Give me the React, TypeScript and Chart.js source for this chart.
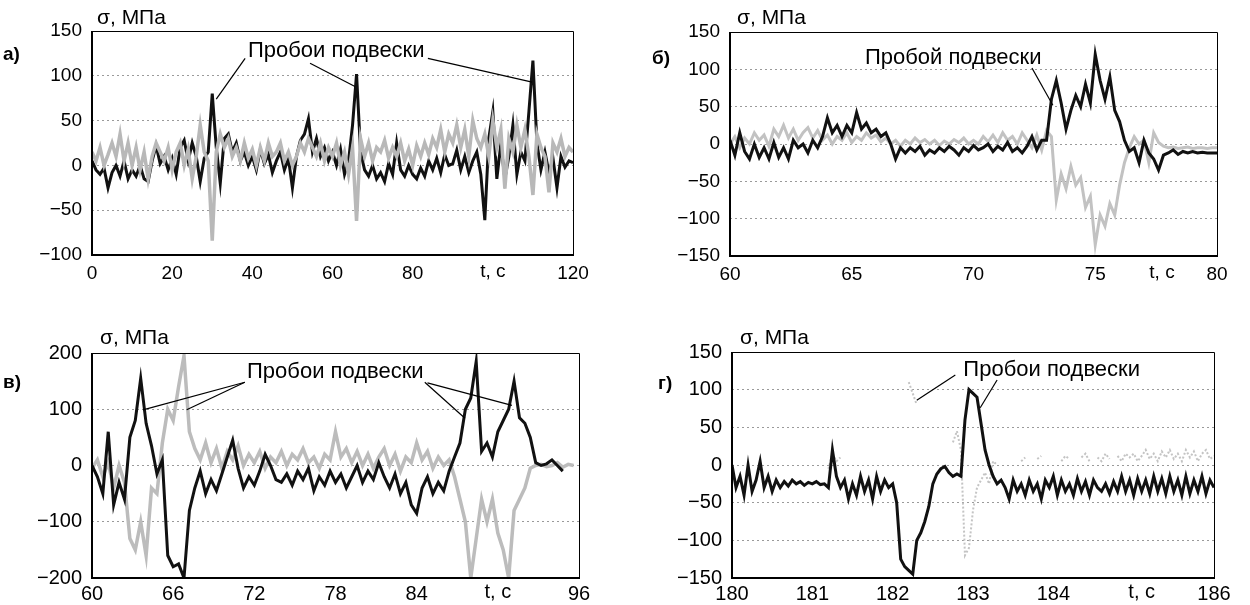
import React, { useEffect, useRef } from 'react';
import { Chart, registerables } from 'chart.js';

Chart.register(...registerables);

const FONT = '"Liberation Sans", Arial, Helvetica, sans-serif';

// ---------- Panel а) : t = 0..120 s, step 1 s ----------
const aStart = 0;
const aStep = 1;
const aBlack = [
  5, -5, -10, -3, -25, -8, 0, -12, 5, -15,
  -5, -12, 0, -15, -18, 5, 22, 2, 10, -5,
  8, -10, 20, 28, 5, 25, 10, -18, 8, 15,
  80, 20, -20, 30, 35, 15, 25, 5, 15, 0,
  10, -5, 18, 2, 12, -8, 5, 15, -5, 8,
  -25, 10, 28, 35, 52, 15, 30, 10, 20, 5,
  15, 0, 18, -10, 5, 45, 102, 15, -5, -12,
  0, -15, -8, -18, 2, -10, 25, -5, -12, 0,
  -10, -15, -3, -12, 5, -5, 8, -8, 12, 0,
  2, 17, -5, 10, -8, 5, 15, -10, -61, 30,
  60, -15, 24, -15, 10, 45, -10, 15, 5, 60,
  117, 25, -5, 15, -8, 8, -25, 10, -2, 5,
  3,
];
const aGray = [
  15, 5, 20, 0, 12, 25, 10, 35, 5, 25,
  0, 20, -5, 15, -15, 10, 25, 15, 5, 20,
  -5, 15, 25, 0, 18, -15, 10, 45, 15, 5,
  -84, 15, 35, 20, 30, 10, 20, 5, 25, 8,
  18, 0, 20, 5, 25, 10, 15, 25, 5, 15,
  0, 10, 25, 15, 30, 20, 10, 25, 5, 20,
  10, 25, 0, 15, -10, 20, -62, 30, 10, 25,
  5, 20, 15, 28, 8, 20, 10, 25, 5, 18,
  0, 22, 10, 25, 12, 30, 20, 40, 15, 35,
  25, 45, 20, 40, 10, 50, 30, 20, 35, 10,
  50, 20, 40, -26, 30, 15, 45, 20, 40, 10,
  -33, 35, 20, 10, -30, 25, 15, 30, 10, 20,
  15,
];
const aNoteAt = [38.9, 128];
const aLeaders = [
  [38.2, 119.4, 31.0, 74],
  [54.4, 114, 65.6, 88],
  [83.8, 119.4, 109.8, 93],
];

// ---------- Panel б) : t = 60..80 s, step 0.2 s ----------
const bStart = 60;
const bStep = 0.2;
const bBlack = [
  5, -15, 15, -10, -20, 0, -18, -5, -20, 2,
  -18, -5, -20, 5, -5, 0, -12, 5, -5, 10,
  35, 15, 25, 10, 25, 15, 42, 20, 28, 15,
  20, 10, 15, 0, -20, -5, -12, -5, -10, -3,
  -15, -8, -12, -5, -10, -3, -8, -15, -5, -10,
  -2, -8, -5, 0, -10, -3, -8, 2, -10, -5,
  -12, -3, 10, -8, 5, 5, 60, 85, 55, 20,
  45, 65, 50, 80, 55, 120, 85, 60, 90, 45,
  30, 5, -10, -5, -25, 5, -12, -20, -35, -15,
  -12, -8, -14, -10, -12, -10, -12, -11, -12, -12,
  -12,
];
const bGray = [
  0, 10, -5, 8, 0, 15, 5, 12, -3, 20,
  10, 25, 8, 20, 5, 15, 22, 8, 18, 5,
  12, 0, 10, 5, 15, 2, 10, 5, 15, 8,
  12, 3, 8, 0, 5, -3, 5, 0, 8, 2,
  6, 0, 5, -2, 4, 0, 6, 2, 8, 0,
  5, 0, 10, 3, 12, 2, 15, 5, 10, 0,
  15, 5, -5, 12, -8, 18, 10, -75, -40, -60,
  -30, -55, -45, -85, -70, -135, -95, -110, -80, -95,
  -55, -25, -5, 10, 0, 5, -25, 15, 2, -3,
  -5, -4, -6, -5, -4, -6, -5, -5, -6, -5,
  -5,
];
const bNoteAt = [65.54, 115];
const bLeaders = [[72.4, 101.7, 73.26, 52]];

// ---------- Panel в) : t = 60..96 s, step 0.4 s ----------
const vStart = 60;
const vStep = 0.4;
const vBlack = [
  0, -20, -50, 60, -70, -30, -60, 50, 80, 155,
  75, 35, -15, 10, -160, -180, -175, -200, -80, -40,
  -10, -50, -25, -45, -15, 15, 45, -5, -40, -20,
  -35, -10, 20, 0, -25, -30, -15, -35, -10, -25,
  -5, -45, -20, -35, -10, -30, -15, -40, -20, 0,
  -30, -10, -25, 5, -20, -40, -15, -50, -30, -70,
  -85, -40, -20, -50, -30, -45, -10, 15, 40, 100,
  120, 185, 25, 40, 15, 60, 80, 100, 150, 85,
  75, 50, 5, 0, 3, 10, 0, -10, null, null,
  null,
];
const vGray = [
  -5, 10, -20, 5, -40, 0, -30, -130, -150, -100,
  -160, -40, -50, 40, 100, 80, 140, 195, 60, 30,
  10, 40, 5, 30, -5, 25, 10, 35, 0, 20,
  5, 25, -5, 15, 5, 25, 0, 20, 10, 30,
  5, 15, -5, 20, 10, 60, 15, 30, 5, 25,
  0, 20, -5, 15, 30, 0, 20, -10, 15, 5,
  40, 10, 25, -5, 15, 0, 10, -20, -60, -100,
  -200, -130, -60, -100, -60, -120, -150, -200, -80, -60,
  -40, -5, 0, 2, -2, 0, 5, -3, 2, 0,
  null,
];
const vNoteAt = [71.46, 166];
const vLeaders = [
  [71.3, 148, 63.77, 99],
  [71.3, 148, 67.0, 99],
  [84.6, 148, 87.57, 84],
  [84.8, 147, 91.04, 107],
];

// ---------- Panel г) : t = 180..186 s, step 0.05 s ----------
const gStart = 180;
const gStep = 0.05;
const gBlack = [
  0, -30, -15, -40, 0, -35, -20, 5, -30, -15,
  -35, -20, -30, -22, -28, -20, -25, -22, -27, -23,
  -25, -22, -26, -25, -30, 20, -15, -30, -20, -45,
  -25, -40, -15, -35, -20, -45, -15, -35, -20, -30,
  -25, -50, -125, -135, -140, -145, -100, -90, -75, -55,
  -25, -12, -5, -2, -10, -15, -12, -15, 60, 100,
  95, 90, 55, 20, 0, -15, -25, -20, -30, -45,
  -20, -35, -25, -40, -20, -35, -25, -45, -20, -30,
  -15, -40, -20, -35, -25, -40, -18, -35, -22, -40,
  -20, -30, -35, -25, -38, -22, -35, -15, -35, -20,
  -40, -18, -35, -20, -38, -15, -35, -18, -38, -15,
  -35, -20, -40, -15, -38, -20, -35, -15, -38, -20,
  -30,
];
const gGray = [
  null, null, null, null, null, null, null, null, null, null,
  null, null, null, null, null, null, null, null, null, null,
  null, null, null, null, -5, 15, 5, 10, null, null,
  null, null, null, null, null, null, null, null, null, null,
  null, null, null, null, 110, 95, 80, null, null, null,
  null, null, null, null, null, 30, 45, 20, -120, -110,
  -60, -30, -20, -10, -25, 5, 0, null, null, null,
  null, null, 5, 10, null, null, 8, 12, null, null,
  null, null, 5, 12, 8, null, null, 10, 15, 5,
  null, 10, 5, 15, 8, null, 12, 5, 15, 10,
  15, 5, 12, 20, 8, 15, 5, 18, 10, 20,
  8, 15, 5, 20, 10, 18, 5, 15, 20, 8,
  12,
];
const gNoteAt = [182.88, 126];
const gLeaders = [
  [182.3, 86, 182.78, 119.5],
  [183.3, 112.8, 183.09, 76],
];

const NOTE_PLURAL = 'Пробои подвески';
const NOTE_SINGLE = 'Пробой подвески';
const Y_TITLE = 'σ, МПа';
const T_LABEL = 't, с';

type PanelDef = {
  key: string;
  label: string;
  left: number; top: number; w: number; h: number;
  yW: number; xH: number;
  pad: { left: number; top: number; right: number; bottom: number };
  xMin: number; xMax: number; xStepTick: number;
  yMin: number; yMax: number; yStepTick: number;
  tAt: number; tHide: number | null;
  tick: number; xPad: number;
  start: number; step: number;
  black: (number | null)[]; gray: (number | null)[];
  grayOnTop: boolean; grayDash: number[]; grayColor: string; grayWidth: number;
  note: string; noteAt: number[]; leaders: number[][];
  labelPos: { x: number; y: number };
  titlePos: { x: number; y: number };
};

const panels: PanelDef[] = [
  {
    key: 'a', label: 'а)', left: 0, top: 0, w: 600, h: 290, yW: 92, xH: 35,
    pad: { left: 0, top: 31, right: 27, bottom: 0 },
    xMin: 0, xMax: 120, xStepTick: 20, yMin: -100, yMax: 150, yStepTick: 50,
    tAt: 100, tHide: 100, tick: 19, xPad: 7,
    start: aStart, step: aStep, black: aBlack, gray: aGray,
    grayOnTop: true, grayDash: [], grayColor: '#b8b8b8', grayWidth: 3.5,
    note: NOTE_PLURAL, noteAt: aNoteAt, leaders: aLeaders,
    labelPos: { x: 3, y: 44 }, titlePos: { x: 97, y: 6 },
  },
  {
    key: 'b', label: 'б)', left: 625, top: 0, w: 625, h: 290, yW: 105, xH: 34,
    pad: { left: 0, top: 32, right: 33, bottom: 0 },
    xMin: 60, xMax: 80, xStepTick: 5, yMin: -150, yMax: 150, yStepTick: 50,
    tAt: 77.74, tHide: null, tick: 19, xPad: 7,
    start: bStart, step: bStep, black: bBlack, gray: bGray,
    grayOnTop: false, grayDash: [], grayColor: '#c2c2c2', grayWidth: 3,
    note: NOTE_SINGLE, noteAt: bNoteAt, leaders: bLeaders,
    labelPos: { x: 652, y: 48 }, titlePos: { x: 737, y: 6 },
  },
  {
    key: 'v', label: 'в)', left: 0, top: 300, w: 600, h: 305, yW: 92, xH: 27,
    pad: { left: 0, top: 53, right: 21, bottom: 0 },
    xMin: 60, xMax: 96, xStepTick: 6, yMin: -200, yMax: 200, yStepTick: 100,
    tAt: 90, tHide: 90, tick: 20, xPad: 4,
    start: vStart, step: vStep, black: vBlack, gray: vGray,
    grayOnTop: false, grayDash: [], grayColor: '#bcbcbc', grayWidth: 3.5,
    note: NOTE_PLURAL, noteAt: vNoteAt, leaders: vLeaders,
    labelPos: { x: 3, y: 372 }, titlePos: { x: 100, y: 326 },
  },
  {
    key: 'g', label: 'г)', left: 625, top: 300, w: 625, h: 305, yW: 107, xH: 27,
    pad: { left: 0, top: 52, right: 36, bottom: 0 },
    xMin: 180, xMax: 186, xStepTick: 1, yMin: -150, yMax: 150, yStepTick: 50,
    tAt: 185.1, tHide: 185, tick: 20, xPad: 4,
    start: gStart, step: gStep, black: gBlack, gray: gGray,
    grayOnTop: false, grayDash: [2, 2], grayColor: '#c4c4c4', grayWidth: 2,
    note: NOTE_PLURAL, noteAt: gNoteAt, leaders: gLeaders,
    labelPos: { x: 658, y: 373 }, titlePos: { x: 740, y: 326 },
  },
];

const decoPlugin = {
  id: 'deco',
  afterDatasetsDraw(chart: any, _args: any, opts: any) {
    const { ctx, chartArea: ca, scales } = chart;
    const xs = scales.x;
    const ys = scales.y;
    ctx.save();
    ctx.strokeStyle = '#000';
    // thin top & right border
    ctx.lineWidth = 1;
    ctx.beginPath();
    ctx.moveTo(ca.left, ca.top + 0.5);
    ctx.lineTo(ca.right + 0.5, ca.top + 0.5);
    ctx.lineTo(ca.right + 0.5, ca.bottom);
    ctx.stroke();
    // heavy left & bottom axes
    ctx.lineWidth = 2;
    ctx.beginPath();
    ctx.moveTo(ca.left, ca.top);
    ctx.lineTo(ca.left, ca.bottom);
    ctx.lineTo(ca.right + 1, ca.bottom);
    ctx.stroke();
    // leader lines
    ctx.lineWidth = 1.2;
    for (const l of opts.leaders) {
      ctx.beginPath();
      ctx.moveTo(xs.getPixelForValue(l[0]), ys.getPixelForValue(l[1]));
      ctx.lineTo(xs.getPixelForValue(l[2]), ys.getPixelForValue(l[3]));
      ctx.stroke();
    }
    ctx.fillStyle = '#000';
    ctx.font = `22px ${FONT}`;
    ctx.textAlign = 'left';
    ctx.textBaseline = 'middle';
    ctx.fillText(opts.note, xs.getPixelForValue(opts.noteAt[0]), ys.getPixelForValue(opts.noteAt[1]));
    // time axis label
    ctx.font = `${opts.tick}px ${FONT}`;
    ctx.textAlign = 'center';
    ctx.textBaseline = 'top';
    ctx.fillText(T_LABEL, xs.getPixelForValue(opts.tAt), ca.bottom + opts.xPad);
    ctx.restore();
  },
};

function fmt(v: number) {
  return v < 0 ? '\u2212' + Math.abs(v) : String(v);
}

function Panel({ p }: { p: PanelDef }) {
  const ref = useRef<HTMLCanvasElement | null>(null);
  useEffect(() => {
    if (!ref.current) return;
    const toPts = (arr: (number | null)[]) =>
      arr.map((v, i) => ({ x: Math.round((p.start + i * p.step) * 1000) / 1000, y: v }));
    const black = {
      label: 'black',
      data: toPts(p.black),
      borderColor: '#111',
      borderWidth: 3,
      pointRadius: 0,
      tension: 0,
      spanGaps: false,
    };
    const gray = {
      label: 'gray',
      data: toPts(p.gray),
      borderColor: p.grayColor,
      borderWidth: p.grayWidth,
      borderDash: p.grayDash,
      pointRadius: 0,
      tension: 0,
      spanGaps: false,
    };
    // first dataset is drawn on top
    const datasets = p.grayOnTop ? [gray, black] : [black, gray];
    const tickFont = { family: FONT, size: p.tick };
    const chart = new Chart(ref.current, {
      type: 'line',
      data: { datasets: datasets as any },
      options: {
        animation: false,
        responsive: true,
        maintainAspectRatio: false,
        layout: { padding: p.pad },
        plugins: {
          legend: { display: false },
          tooltip: { enabled: false },
          deco: {
            leaders: p.leaders,
            note: p.note,
            noteAt: p.noteAt,
            tAt: p.tAt,
            tick: p.tick,
            xPad: p.xPad,
          },
        } as any,
        scales: {
          x: {
            type: 'linear',
            min: p.xMin,
            max: p.xMax,
            grid: { display: false, drawTicks: false },
            border: { display: false },
            ticks: {
              stepSize: p.xStepTick,
              autoSkip: false,
              maxRotation: 0,
              padding: p.xPad,
              color: '#000',
              font: tickFont,
              callback: (v: any) => (p.tHide !== null && Math.abs(Number(v) - p.tHide) < 1e-6 ? '' : fmt(Number(v))),
            },
            afterFit: (s: any) => {
              s.height = p.xH;
            },
          },
          y: {
            type: 'linear',
            min: p.yMin,
            max: p.yMax,
            grid: { color: '#9a9a9a', lineWidth: 1, drawTicks: false },
            border: { display: false, dash: [2, 3] },
            ticks: {
              stepSize: p.yStepTick,
              padding: 10,
              color: '#000',
              font: tickFont,
              callback: (v: any) => fmt(Number(v)),
            },
            afterFit: (s: any) => {
              s.width = p.yW;
            },
          },
        },
      },
      plugins: [decoPlugin as any],
    });
    return () => chart.destroy();
  }, [p]);
  return (
    <div style={{ position: 'absolute', left: p.left, top: p.top, width: p.w, height: p.h }}>
      <canvas ref={ref} />
    </div>
  );
}

export default function App() {
  return (
    <div
      style={{
        position: 'absolute',
        left: 0,
        top: 0,
        width: 1250,
        height: 605,
        background: '#fff',
        overflow: 'hidden',
        fontFamily: FONT,
        color: '#000',
      }}
    >
      {panels.map((p) => (
        <Panel key={p.key} p={p} />
      ))}
      {panels.map((p) => (
        <div
          key={p.key + '-lbl'}
          style={{ position: 'absolute', left: p.labelPos.x, top: p.labelPos.y, fontSize: 19, lineHeight: '19px', fontWeight: 'bold', whiteSpace: 'nowrap' }}
        >
          {p.label}
        </div>
      ))}
      {panels.map((p) => (
        <div
          key={p.key + '-ttl'}
          style={{ position: 'absolute', left: p.titlePos.x, top: p.titlePos.y, fontSize: 21, lineHeight: '21px', whiteSpace: 'nowrap' }}
        >
          {Y_TITLE}
        </div>
      ))}
    </div>
  );
}
